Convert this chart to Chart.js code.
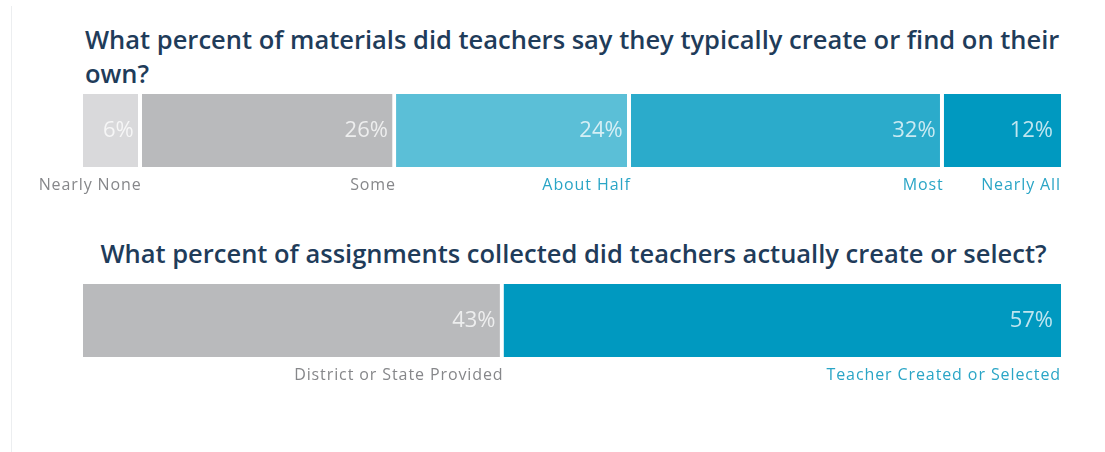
<!DOCTYPE html>
<html>
<head>
<meta charset="utf-8">
<script src="https://cdn.jsdelivr.net/npm/chart.js@4"></script>
<style>
  body { margin: 0; background: #fff; }
  #wrap { position: relative; width: 1105px; height: 452px; overflow: hidden; }
  #frame { position: absolute; left: 11px; top: 6px; width: 1090px; height: 460px; border-left: 1px solid #eceef0; }
  canvas { position: absolute; left: 0; top: 0; }
  .ttl { position: absolute; font-family: "Open Sans", sans-serif; font-weight: 600; font-size: 25.5px; color: #1f3c5a; line-height: 34px; }
</style>
</head>
<body>
<div id="wrap">
  <div id="frame"></div>
  <div class="ttl" id="t1" style="left:85px; top:22px; width:1000px;">What percent of materials did teachers say they typically create or find on their own?</div>
  <div class="ttl" id="t2" style="left:0; top:236px; width:1147px; text-align:center;">What percent of assignments collected did teachers actually create or select?</div>
  <canvas id="c1" width="1105" height="452"></canvas>
  <canvas id="c2" width="1105" height="452"></canvas>
</div>
<script>
// Pregunta 1: materiales
const categorias1 = ["Nearly None", "Some", "About Half", "Most", "Nearly All"];
const valores1 = [6, 26, 24, 32, 12];
const colores1 = ["#d9d9db", "#b9babc", "#5bbfd7", "#2babcb", "#0099c0"];
const coloresEtiqueta1 = ["#86878a", "#86878a", "#2aa5c6", "#2aa5c6", "#2aa5c6"];

// Pregunta 2: tareas
const categorias2 = ["District or State Provided", "Teacher Created or Selected"];
const valores2 = [43, 57];
const colores2 = ["#b9babc", "#0099c0"];
const coloresEtiqueta2 = ["#86878a", "#2aa5c6"];

// Etiquetas: valor dentro de la barra y categoria debajo
const etiquetasPlugin = {
  id: "etiquetas",
  afterDatasetsDraw(chart, args, opts) {
    const ctx = chart.ctx;
    chart.data.datasets.forEach((ds, i) => {
      const bar = chart.getDatasetMeta(i).data[0];
      const fin = bar.x;
      ctx.save();
      ctx.textAlign = "right";
      ctx.textBaseline = "middle";
      ctx.font = '22px "Open Sans", sans-serif';
      ctx.fillStyle = "rgba(255,255,255,0.75)";
      ctx.fillText(ds.data[0] + "%", fin - 8, bar.y);
      ctx.font = '16px "Open Sans", sans-serif';
      ctx.letterSpacing = "0.9px";
      ctx.fillStyle = opts.colores[i];
      ctx.fillText(ds.label, fin, bar.y + bar.height / 2 + 18);
      ctx.restore();
    });
  },
};

function crearGrafico(id, categorias, valores, colores, coloresEtiqueta, arriba, abajo) {
  const datasets = categorias.map((c, i) => ({
    label: c,
    data: [valores[i]],
    backgroundColor: colores[i],
    borderColor: "#ffffff",
    borderSkipped: false,
    borderWidth: { left: 0, top: 0, bottom: 0, right: i < categorias.length - 1 ? 4 : 0 },
    barPercentage: 1,
    categoryPercentage: 1,
  }));
  return new Chart(document.getElementById(id), {
    type: "bar",
    data: { labels: [""], datasets: datasets },
    options: {
      indexAxis: "y",
      responsive: false,
      animation: false,
      layout: { padding: { left: 83, right: 44, top: arriba, bottom: abajo } },
      scales: {
        x: { stacked: true, min: 0, max: 100, display: false },
        y: { stacked: true, display: false },
      },
      plugins: {
        legend: { display: false },
        tooltip: { enabled: false },
        etiquetas: { colores: coloresEtiqueta },
      },
    },
    plugins: [etiquetasPlugin],
  });
}

crearGrafico("c1", categorias1, valores1, colores1, coloresEtiqueta1, 94, 285);
crearGrafico("c2", categorias2, valores2, colores2, coloresEtiqueta2, 284, 95);
</script>
</body>
</html>
